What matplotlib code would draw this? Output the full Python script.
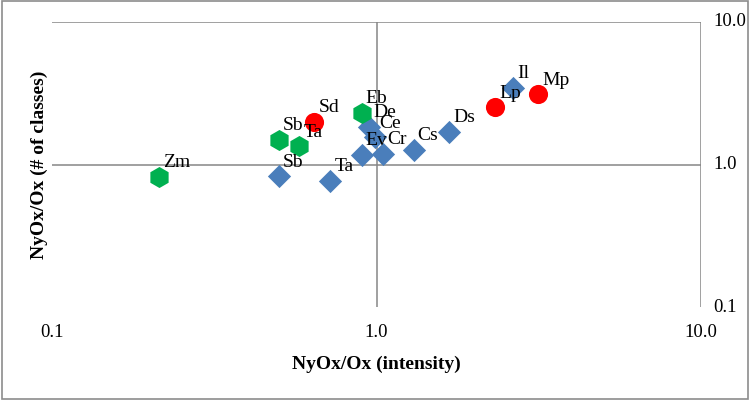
import matplotlib.pyplot as plt
import matplotlib.patches as patches

plt.rcParams['font.family'] = ['Liberation Serif', 'DejaVu Serif']

# Data (log-log)
blue_labels = ['Sb', 'Ta', 'Ev', 'Cr', 'Cs', 'Ds', 'De', 'Ce', 'Il']
blue_x = [0.50, 0.72, 0.90, 1.05, 1.30, 1.67, 0.95, 0.99, 2.64]
blue_y = [0.83, 0.77, 1.17, 1.19, 1.27, 1.70, 1.84, 1.56, 3.47]

green_labels = ['Zm', 'Sb', 'Ta', 'Eb']
green_x = [0.214, 0.50, 0.578, 0.90]
green_y = [0.82, 1.49, 1.34, 2.31]

red_labels = ['Sd', 'Lp', 'Mp']
red_x = [0.643, 2.32, 3.15]
red_y = [1.99, 2.52, 3.12]

ticks = [0.1, 1, 10]
tick_labels = ['0.1', '1.0', '10.0']

fig = plt.figure(figsize=(7.5, 4), dpi=100)
ax = fig.add_axes([0.069, 0.232, 0.866, 0.713])
ax.set_xscale('log')
ax.set_yscale('log')
ax.set_xlim(0.1, 10)
ax.set_ylim(0.1, 10)

# axis / grid lines like the original Excel chart
line_col = '#868686'
ax.hlines([1, 10], 0.1, 10, color=line_col, lw=1.1, zorder=1)
ax.vlines([1, 10], 0.1, 10, color=line_col, lw=1.1, zorder=1)

ax.scatter(blue_x, blue_y, marker='D', s=140, color='#4A7EBB', zorder=3, linewidths=0)
ax.scatter(green_x, green_y, marker='h', s=230, color='#00B050', zorder=3, linewidths=0)
ax.scatter(red_x, red_y, marker='o', s=190, color='#FF0000', zorder=3, linewidths=0)

for labels, xs, ys in [(blue_labels, blue_x, blue_y),
                       (green_labels, green_x, green_y),
                       (red_labels, red_x, red_y)]:
    for lab, x, y in zip(labels, xs, ys):
        ax.annotate(lab, (x, y), xytext=(3, 4), textcoords='offset points',
                    ha='left', va='bottom', fontsize=14, zorder=4)

for s in ax.spines.values():
    s.set_visible(False)
ax.set_xticks(ticks)
ax.set_xticklabels(tick_labels, fontsize=13.5)
ax.set_yticks(ticks)
ax.set_yticklabels(tick_labels, fontsize=13.5)
ax.minorticks_off()
ax.yaxis.tick_right()
ax.tick_params(axis='x', length=0, pad=12)
ax.tick_params(axis='y', length=0, pad=9)
for t in ax.get_yticklabels():
    t.set_verticalalignment('center')

ax.set_xlabel('NyOx/Ox (intensity)', fontsize=14, fontweight='bold', labelpad=11)
ax.set_ylabel('NyOx/Ox (# of classes)', fontsize=14, fontweight='bold', labelpad=3)
ax.yaxis.set_label_position('left')

fig.patches.append(patches.Rectangle((0.002, 0.003), 0.995, 0.994, transform=fig.transFigure,
                                     fill=False, edgecolor='#8c8c8c', lw=1.2))

fig.savefig('out.png', dpi=100)
